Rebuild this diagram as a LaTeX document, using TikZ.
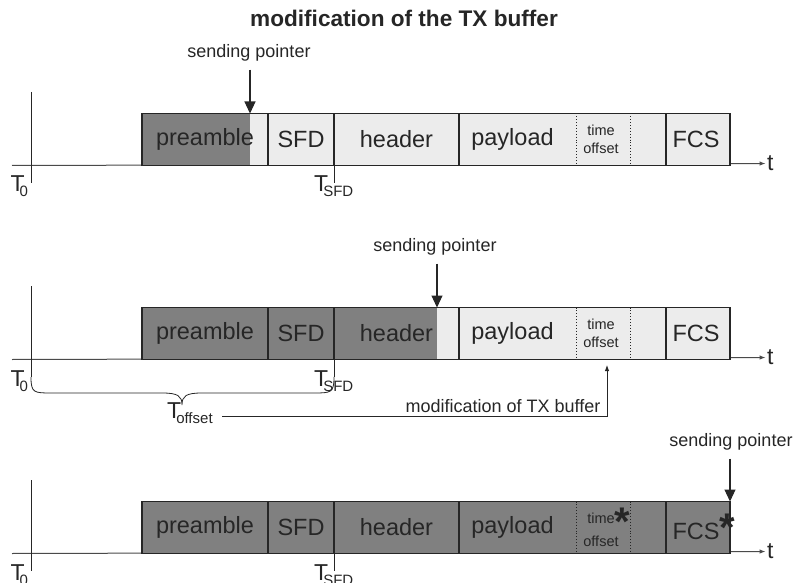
\documentclass[tikz,border=0pt]{standalone}
\usepackage{fontspec}
\setmainfont{Liberation Sans}
\usetikzlibrary{arrows.meta}
\definecolor{inkc}{HTML}{262626}
\definecolor{axisc}{HTML}{4A4A4A}
\definecolor{darkfill}{HTML}{808080}
\definecolor{lightfill}{HTML}{ECECEC}

\newcommand\fs[1]{\fontsize{#1}{#1}\selectfont}
% raised bold asterisk that takes no width
\newcommand\starmark[1]{\rlap{\raisebox{#1}{\fs{40}\bfseries *}}}
% T with a subscript, set close to the T
\newcommand\tsub[1]{T\kern-5pt\raisebox{-5pt}{\fs{15}#1}}

% one packet on its time axis; #1 name suffix, #2 top of the boxes,
% #3 end of the already sent (dark) part, #4 mark after "time", #5 mark after "FCS"
\newcommand\packetrow[5]{%
  \begin{scope}[shift={(0,#2)}]
    \node[tlabel, anchor=west] (t#1) at (767,50) {t};
    \draw[axis] (12,52) -- (t#1.west);
    \fill[darkfill] (142,0) rectangle (#3,52);
    \fill[lightfill] (#3,0) rectangle (730,52);
    \node[field, minimum width=126pt] (pre#1) at (142,0) {preamble};
    \node[field, minimum width=66pt] (sfd#1) at (268,0) {SFD};
    \node[field, minimum width=125pt] (hdr#1) at (334,0) {header};
    \node[field, minimum width=207pt] (pay#1) at (459,0) {};
    \node[field, minimum width=64pt] (fcs#1) at (666,0) {FCS#5\hspace*{4pt}};
    \node[fieldtext] (payt#1) at (512.5,26) {payload};
    \node[smalltext] (tof#1) at (601,26) {time#4\\offset};
    \draw[dotsep] (576,0) -- (576,52);
    \draw[dotsep] (630,0) -- (630,52);
    % reference instants
    \draw[tick] (31,-21.5) -- (31,69.5);
    \draw[tick] (334,52) -- (334,69.5);
    \node[tlabel, anchor=base west] (tz#1) at (10.5,78.5) {\tsub{0}};
    \node[tlabel, anchor=base west] (ts#1) at (314,78.5) {\tsub{SFD}};
  \end{scope}}

\begin{document}
\begin{tikzpicture}[x=1pt, y=-1pt,
  field/.style={draw=inkc, line width=1.4pt, minimum height=52pt, inner sep=0pt,
    outer sep=0pt, anchor=north west, text=inkc, font=\fs{23.5}},
  fieldtext/.style={inner sep=0pt, text=inkc, font=\fs{23.5}},
  smalltext/.style={inner sep=0pt, text=inkc, align=center, font=\fontsize{14.5}{17.5}\selectfont},
  tlabel/.style={inner sep=0pt, text=inkc, font=\fs{23}},
  note/.style={inner sep=0pt, text=inkc, font=\fs{18}},
  axis/.style={draw=axisc, line width=1pt, shorten >=1.5pt, -{Latex[length=6pt,width=4.5pt]}},
  tick/.style={draw=inkc, line width=0.8pt},
  dotsep/.style={draw=inkc, line width=0.9pt, dotted},
  pointer/.style={draw=inkc, line width=1.1pt, shorten <=8pt, -{Triangle[length=12pt,width=11pt]}},
  small arrow/.style={draw=inkc, line width=0.9pt, -{Latex[length=6pt,width=4.5pt]}}]

\useasboundingbox (0,0) rectangle (793,583);

\node[inner sep=0pt, text=inkc, font=\fs{22.6}\bfseries] (title) at (404,18) {modification of the TX buffer};

% the packet at three moments of transmission
\packetrow{a}{113.5}{250}{}{}
\packetrow{b}{307.5}{437}{}{}
\packetrow{c}{501.5}{730}{\starmark{-12pt}}{\starmark{-2pt}}

% sending pointers
\coordinate (pa) at (250,113.5);
\coordinate (pb) at (437,307.5);
\coordinate (pc) at (730,501.5);
\node[note] (spa) at (249,53) {sending pointer};
\node[note] (spb) at (435,247) {sending pointer};
\node[note] (spc) at (731,442) {sending pointer};
\draw[pointer] (spa.south -| pa) -- (pa);
\draw[pointer] (spb.south -| pb) -- (pb);
\draw[pointer] (spc.south -| pc) -- (pc);

% brace between T0 and T_SFD
\coordinate (bl) at (31,377);
\coordinate (br) at (334,377);
\coordinate (btip) at (182,405);
\draw[tick] (bl) .. controls (31,393) and (34,393) .. (52,393) -- (162,393)
  .. controls (178,393) and (182,396) .. (btip)
  .. controls (182,396) and (186,393) .. (202,393) -- (313,393)
  .. controls (331,393) and (334,393) .. (br);
\node[tlabel, anchor=base west] (toff) at (167,418) {\tsub{offset}};

% time stamp written into the buffer
\coordinate (mstart) at (222,416);
\coordinate (mtip) at (607,365);
\draw[small arrow] (mstart) -| (mtip);
\node[note, anchor=base] (mod) at (503,412) {modification of TX buffer};

\end{tikzpicture}
\end{document}
